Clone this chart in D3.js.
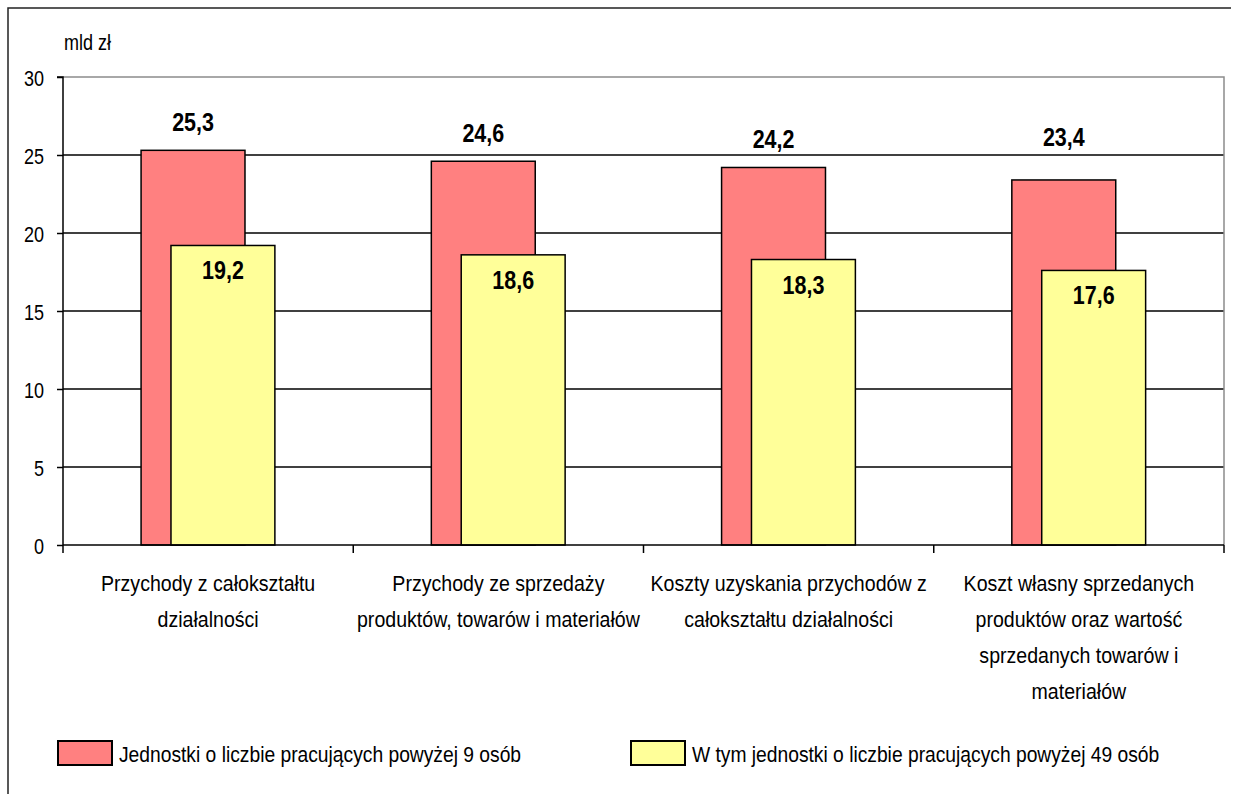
<!DOCTYPE html>
<html>
<head>
<meta charset="utf-8">
<script src="https://cdn.jsdelivr.net/npm/d3@7/dist/d3.min.js"></script>
<style>
  html, body { margin: 0; padding: 0; background: #fff; }
  svg { display: block; }
  text { font-family: "Liberation Sans", Arial, sans-serif; fill: #000; }
</style>
</head>
<body>
<svg id="chart" width="1234" height="794"></svg>
<script>
const categories = [
  ["Przychody z całokształtu", "działalności"],
  ["Przychody ze sprzedaży", "produktów, towarów i materiałów"],
  ["Koszty uzyskania przychodów z", "całokształtu działalności"],
  ["Koszt własny sprzedanych", "produktów oraz wartość", "sprzedanych towarów i", "materiałów"]
];
const seriesNames = [
  "Jednostki o liczbie pracujących powyżej 9 osób",
  "W tym jednostki o liczbie pracujących powyżej 49 osób"
];
const valuesAll = [25.3, 24.6, 24.2, 23.4];
const values49 = [19.2, 18.6, 18.3, 17.6];
const yTicks = [0, 5, 10, 15, 20, 25, 30];
const unitLabel = "mld zł";
const colors = ["#FF8080", "#FFFF99"];

const svg = d3.select("#chart");
const SX = 0.82; // horizontal condensation of the original (narrow) font

// outer frame
svg.append("path").attr("d", "M1231,8H8V800")
  .attr("fill", "none").attr("stroke", "#222").attr("stroke-width", 1.5);

const pL = 63, pR = 1224, pT = 77, pB = 545;
const keys = categories.map((c, i) => i);
const x = d3.scaleBand().domain(keys).range([pL, pR]).padding(0);
const y = d3.scaleLinear().domain([0, 30]).range([pB, pT]);

const bw = x.bandwidth();
const barW = bw * 0.358;
const off0 = bw * 0.269;
const off1 = bw * 0.372;

// gridlines
svg.append("g").selectAll("line").data(yTicks.filter(t => t > 0 && t < 30)).join("line")
  .attr("x1", pL).attr("x2", pR)
  .attr("y1", d => y(d)).attr("y2", d => y(d))
  .attr("stroke", "#000").attr("stroke-width", 1.3);

// plot border (top & right) gray
svg.append("path")
  .attr("d", `M${pL},${y(30)}H${pR}V${pB}`)
  .attr("fill", "none").attr("stroke", "#8c8c8c").attr("stroke-width", 1.5);

// bars
const gBars = svg.append("g");
gBars.selectAll("rect.s0").data(valuesAll).join("rect").attr("class", "s0")
  .attr("x", (d, i) => x(i) + off0).attr("width", barW)
  .attr("y", d => y(d)).attr("height", d => y(0) - y(d))
  .attr("fill", colors[0]).attr("stroke", "#000").attr("stroke-width", 1.5);
gBars.selectAll("rect.s1").data(values49).join("rect").attr("class", "s1")
  .attr("x", (d, i) => x(i) + off1).attr("width", barW)
  .attr("y", d => y(d)).attr("height", d => y(0) - y(d))
  .attr("fill", colors[1]).attr("stroke", "#000").attr("stroke-width", 1.5);

const fmt = v => d3.format(".1f")(v).replace(".", ",");

// value labels (outside end; lifted above a gridline they would cross)
function outsideY(d) {
  let ly = y(d) - 19;
  yTicks.forEach(t => {
    const gy = y(t);
    if (gy >= ly - 18 && gy <= ly + 2) ly = gy - 9;
  });
  return ly;
}
svg.append("g").selectAll("text").data(valuesAll).join("text")
  .attr("transform", (d, i) => `translate(${x(i) + off0 + barW / 2},${outsideY(d)}) scale(0.86,1)`)
  .attr("text-anchor", "middle")
  .style("font-weight", "bold").style("font-size", "25px")
  .text(fmt);
svg.append("g").selectAll("text").data(values49).join("text")
  .attr("transform", (d, i) => `translate(${x(i) + off1 + barW / 2},${y(d) + 34}) scale(0.86,1)`)
  .attr("text-anchor", "middle")
  .style("font-weight", "bold").style("font-size", "25px")
  .text(fmt);

// y axis
const yAxis = d3.axisLeft(y).tickValues(yTicks).tickSize(6).tickFormat(d3.format("d"));
const gy = svg.append("g").attr("transform", `translate(${pL},0)`).call(yAxis);
gy.attr("font-family", null).attr("font-size", null);
gy.select(".domain").attr("stroke", "#000").attr("stroke-width", 1.5).attr("d", `M-6,${pT}H0V${pB}`);
gy.selectAll(".tick line").attr("stroke", "#000").attr("stroke-width", 1.5);
gy.selectAll(".tick text")
  .attr("x", null).attr("dy", null)
  .attr("transform", `translate(-19,8) scale(${SX},1)`)
  .style("font-size", "22px");

// x axis
const gx = svg.append("g");
gx.append("line").attr("x1", pL).attr("x2", pR).attr("y1", pB).attr("y2", pB)
  .attr("stroke", "#000").attr("stroke-width", 1.5);
const bounds = keys.map(k => x(k)).concat([pR]);
gx.selectAll("line.tk").data(bounds).join("line").attr("class", "tk")
  .attr("x1", d => d).attr("x2", d => d).attr("y1", pB).attr("y2", pB + 8)
  .attr("stroke", "#000").attr("stroke-width", 1.5);

// category labels
const gl = svg.append("g");
categories.forEach((lines, i) => {
  lines.forEach((ln, j) => {
    gl.append("text").attr("text-anchor", "middle").style("font-size", "22px")
      .attr("transform", `translate(${x(i) + bw / 2},${591 + j * 36}) scale(0.89,1)`)
      .text(ln);
  });
});

// unit label
svg.append("text").attr("transform", `translate(64,50) scale(${SX},1)`).style("font-size", "22px").text(unitLabel);

// legend
const legX = [58, 631];
seriesNames.forEach((name, i) => {
  svg.append("rect").attr("x", legX[i]).attr("y", 741).attr("width", 54).attr("height", 24)
    .attr("fill", colors[i]).attr("stroke", "#000").attr("stroke-width", 2);
  svg.append("text").attr("transform", `translate(${legX[i] + 61},762) scale(0.875,1)`)
    .style("font-size", "22px").text(name);
});
</script>
</body>
</html>
